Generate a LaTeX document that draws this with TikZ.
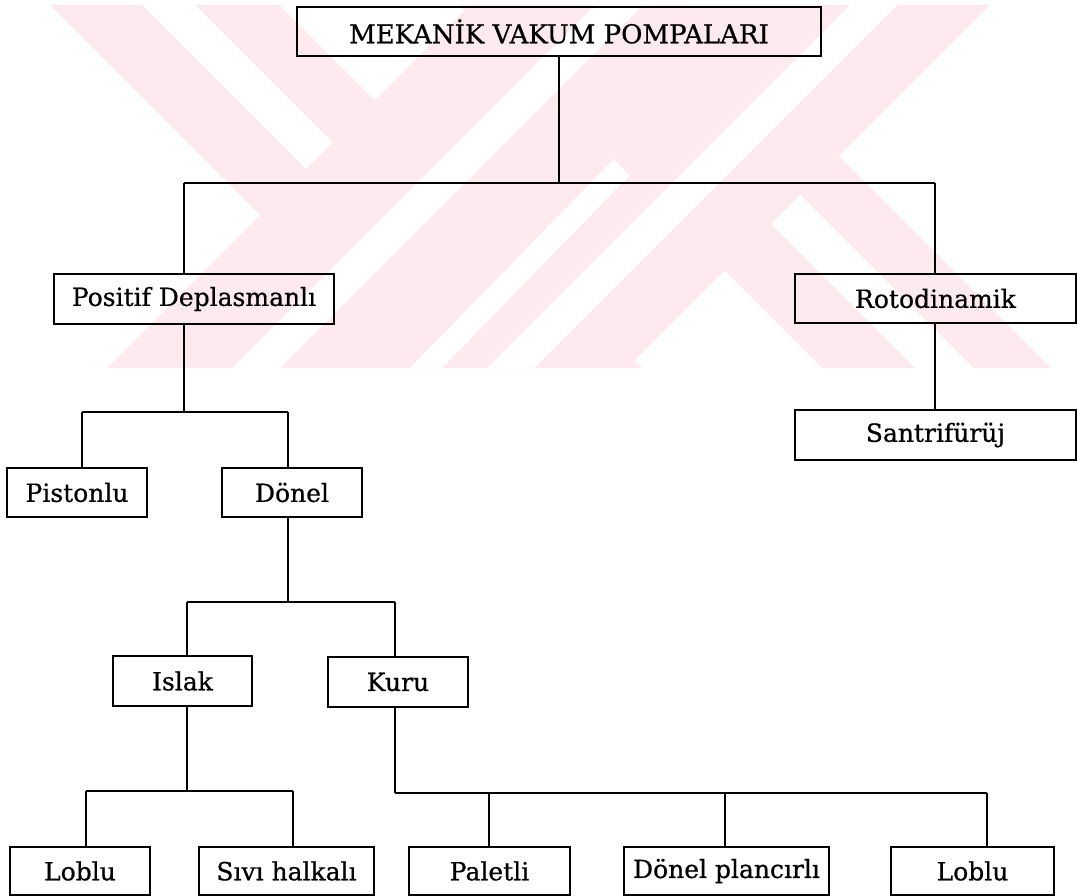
\documentclass[tikz,border=0pt]{standalone}
\usepackage{fontspec}
\setmainfont{DejaVu Serif}[FakeBold=0.7]
\usetikzlibrary{calc}
\definecolor{wm}{RGB}{253,234,238}
\tikzset{
  box/.style={draw=black, line width=1.6pt, minimum height=49pt, inner sep=0pt,
              font=\fontsize{25}{29}\selectfont},
  conn/.style={draw=black, line width=1.5pt},
  wmfill/.style={fill=wm, draw=none},
  wmgap/.style={fill=white, draw=none}
}
\begin{document}
\begin{tikzpicture}[x=1pt,y=-1pt]
\useasboundingbox (0,0) rectangle (1077,896);
% watermark
\fill[wmfill] (50,5) -- (279,5) -- (642,368) -- (413,368) -- cycle;
\fill[wmfill] (459,5) -- (688,5) -- (1051,368) -- (822,368) -- cycle;
\fill[wmfill] (470,5) -- (990,5) -- (627,368) -- (107,368) -- cycle;
\fill[wmgap] (142,5) -- (195,5) -- (332.5,142.5) -- (306,169) -- cycle;
\fill[wmgap] (771,224) -- (800,195) -- (973,368) -- (915,368) -- cycle;
\fill[wmgap] (595,5) -- (643,5) -- (280,368) -- (232,368) -- cycle;
\fill[wmgap] (613.5,159.5) -- (629.5,175.5) -- (442,368) -- (410,368) -- cycle;
\fill[wmgap] (850,5) -- (897,5) -- (534,368) -- (487,368) -- cycle;

% nodes
\node[box, minimum width=524pt, font=\fontsize{26}{30}\selectfont] (top) at (559,31.5) {MEKANİK VAKUM POMPALARI};
\node[box, minimum width=280pt, minimum height=50pt] (pos) at (194,299) {Positif Deplasmanlı};
\node[box, minimum width=281pt] (roto) at (935.5,298.5) {Rotodinamik};
\node[box, minimum width=281pt, minimum height=50pt] (santri) at (935.5,435) {Santrifürüj};
\node[box, minimum width=140pt] (pist) at (77,492.5) {Pistonlu};
\node[box, minimum width=140pt] (donel) at (292,492.5) {Dönel};
\node[box, minimum width=139pt, minimum height=50pt] (islak) at (182.5,681) {Islak};
\node[box, minimum width=140pt, minimum height=50pt] (kuru) at (398,682) {Kuru};
\node[box, minimum width=140pt, minimum height=48pt] (lob1) at (80,871) {Loblu};
\node[box, minimum width=175pt, minimum height=48pt] (sivi) at (286.5,871) {Sıvı halkalı};
\node[box, minimum width=161pt, minimum height=48pt] (pal) at (489.5,871) {Paletli};
\node[box, minimum width=205pt, minimum height=48pt] (dpl) at (726.5,871) {Dönel plancırlı};
\node[box, minimum width=163pt, minimum height=48pt] (lob2) at (972.5,871) {Loblu};

% junctions
\coordinate (j1) at (559,183);
\coordinate (j1l) at (184,183);
\coordinate (j1r) at (935,183);
\coordinate (j2) at (184,412);
\coordinate (j2l) at (82,412);
\coordinate (j2r) at (288,412);
\coordinate (j3) at (288,602);
\coordinate (j3l) at (187,602);
\coordinate (j3r) at (395,602);
\coordinate (j4) at (187,791);
\coordinate (j4l) at (86,791);
\coordinate (j4r) at (293,791);
\coordinate (j5) at (395,793);
\coordinate (j5a) at (489,793);
\coordinate (j5b) at (725,793);
\coordinate (j5r) at (987,793);

% connectors
\draw[conn] (top.south) -- (j1);
\draw[conn] (j1l) -- (j1r);
\draw[conn] (j1l) -- (j1l |- pos.north);
\draw[conn] (j1r) -- (j1r |- roto.north);
\draw[conn] (roto.south -| j1r) -- (santri.north -| j1r);
\draw[conn] (pos.south -| j2) -- (j2);
\draw[conn] (j2l) -- (j2r);
\draw[conn] (j2l) -- (j2l |- pist.north);
\draw[conn] (j2r) -- (j2r |- donel.north);
\draw[conn] (donel.south -| j3) -- (j3);
\draw[conn] (j3l) -- (j3r);
\draw[conn] (j3l) -- (j3l |- islak.north);
\draw[conn] (j3r) -- (j3r |- kuru.north);
\draw[conn] (islak.south -| j4) -- (j4);
\draw[conn] (j4l) -- (j4r);
\draw[conn] (j4l) -- (j4l |- lob1.north);
\draw[conn] (j4r) -- (j4r |- sivi.north);
\draw[conn] (kuru.south -| j5) -- (j5);
\draw[conn] (j5) -- (j5r);
\draw[conn] (j5a) -- (j5a |- pal.north);
\draw[conn] (j5b) -- (j5b |- dpl.north);
\draw[conn] (j5r) -- (j5r |- lob2.north);
\end{tikzpicture}
\end{document}
